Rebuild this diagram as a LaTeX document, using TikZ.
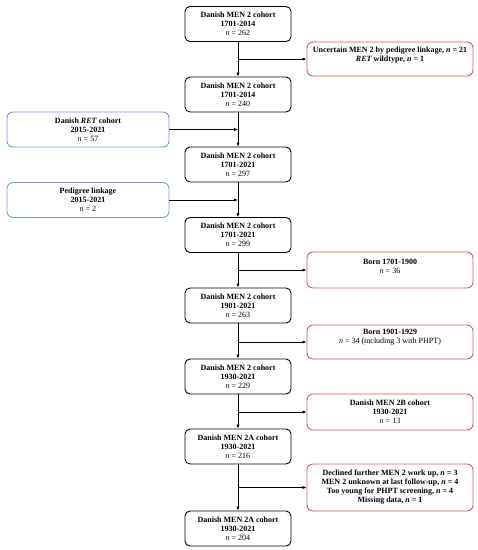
\documentclass[tikz,border=0pt]{standalone}
\usepackage{fontspec}
\setmainfont{Liberation Serif}
\usetikzlibrary{arrows.meta}
\definecolor{redc}{HTML}{D65A5A}
\definecolor{bluec}{HTML}{6E9BD6}
\begin{document}
\begin{tikzpicture}[x=1pt,y=-1pt,
  every node/.style={font=\fontsize{8}{9}\selectfont, align=center, inner sep=0pt},
  mainbox/.style={draw=black, line width=0.9pt, rounded corners=5pt, minimum width=106pt, minimum height=35pt},
  redbox/.style={draw=redc, line width=0.9pt, rounded corners=6pt, minimum width=166pt},
  bluebox/.style={draw=bluec, line width=0.9pt, rounded corners=6pt, minimum width=162pt, minimum height=35pt},
  arr/.style={-{Latex[length=4pt,width=3.2pt]}, line width=0.7pt}]
\useasboundingbox (0,0) rectangle (478,550);

% main column
\node[mainbox] (m1) at (238,24)    {\textbf{Danish MEN 2 cohort}\\\textbf{1701-2014}\\\textit{n} = 262};
\node[mainbox] (m2) at (238,94.5)  {\textbf{Danish MEN 2 cohort}\\\textbf{1701-2014}\\\textit{n} = 240};
\node[mainbox] (m3) at (238,164.5) {\textbf{Danish MEN 2 cohort}\\\textbf{1701-2021}\\\textit{n} = 297};
\node[mainbox] (m4) at (238,235)   {\textbf{Danish MEN 2 cohort}\\\textbf{1701-2021}\\\textit{n} = 299};
\node[mainbox] (m5) at (238,305.5) {\textbf{Danish MEN 2 cohort}\\\textbf{1901-2021}\\\textit{n} = 263};
\node[mainbox] (m6) at (238,376.5) {\textbf{Danish MEN 2 cohort}\\\textbf{1930-2021}\\\textit{n} = 229};
\node[mainbox] (m7) at (238,446.5) {\textbf{Danish MEN 2A cohort}\\\textbf{1930-2021}\\\textit{n} = 216};
\node[mainbox] (m8) at (238,528.5) {\textbf{Danish MEN 2A cohort}\\\textbf{1930-2021}\\\textit{n} = 204};

% red exclusion boxes
\node[redbox, minimum height=34pt,
  label={[anchor=north, yshift=-5pt]north:{\textbf{Uncertain MEN 2 by pedigree linkage, \textit{n} = 21}\\\textbf{\textit{RET} wildtype, \textit{n} = 1}}}]
  (r1) at (390,59) {};
\node[redbox, minimum height=36pt,
  label={[anchor=north, yshift=-7pt]north:{\textbf{Born 1701-1900}\\\textit{n} = 36}}]
  (r2) at (390,270) {};
\node[redbox, minimum height=34pt,
  label={[anchor=north, yshift=-4pt]north:{\textbf{Born 1901-1929}\\\textit{n} = 34 (including 3 with PHPT)}}]
  (r3) at (390,342) {};
\node[redbox, minimum height=36pt] (r4) at (390,412)
  {\textbf{Danish MEN 2B cohort}\\\textbf{1930-2021}\\\textit{n} = 13};
\node[redbox, minimum height=47pt] (r5) at (390,487.5)
  {\textbf{Declined further MEN 2 work up, \textit{n} = 3}\\
   \textbf{MEN 2 unknown at last follow-up, \textit{n} = 4}\\
   \textbf{Too young for PHPT screening, \textit{n} = 4}\\
   \textbf{Missing data, \textit{n} = 1}};

% blue addition boxes
\node[bluebox] (b1) at (88,129.5) {\textbf{Danish \textit{RET} cohort}\\\textbf{2015-2021}\\\textit{n} = 57};
\node[bluebox] (b2) at (88,200)   {\textbf{Pedigree linkage}\\\textbf{2015-2021}\\\textit{n} = 2};

% vertical arrows
\draw[arr] (m1) -- (m2);
\draw[arr] (m2) -- (m3);
\draw[arr] (m3) -- (m4);
\draw[arr] (m4) -- (m5);
\draw[arr] (m5) -- (m6);
\draw[arr] (m6) -- (m7);
\draw[arr] (m7) -- (m8);

% side arrows to exclusions
\draw[arr] (m1.south |- r1.west) -- (r1.west);
\draw[arr] (m4.south |- r2.west) -- (r2.west);
\draw[arr] (m5.south |- r3.west) -- (r3.west);
\draw[arr] (m6.south |- r4.west) -- (r4.west);
\draw[arr] (m7.south |- r5.west) -- (r5.west);

% side arrows from additions
\draw[arr] (b1.east) -- (b1.east -| m2.south);
\draw[arr] (b2.east) -- (b2.east -| m3.south);
\end{tikzpicture}
\end{document}
